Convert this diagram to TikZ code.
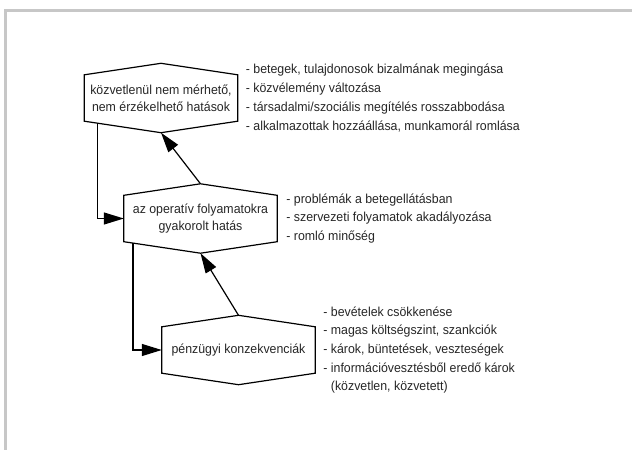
\documentclass[tikz,border=0pt]{standalone}
\usepackage{fontspec}
\setmainfont{Liberation Sans}[FakeStretch=0.95]
\usetikzlibrary{arrows.meta,positioning,calc}

\tikzset{
  hexbox/.style={minimum width=153pt, minimum height=46pt, inner sep=0pt, align=center, text=black!85},
  hexline/.style={line width=1.2pt},
  flow/.style={line width=1.2pt, -{Triangle[length=20pt,width=12pt]}},
  items/.style={align=left, inner sep=0pt, text=black!85, font=\fontsize{13}{18.7}\selectfont},
  frame/.style={line width=3pt, draw=black!22},
}
\newcommand{\hexframe}[1]{%
  \coordinate (#1-up) at ([yshift=11.5pt]#1.north);
  \coordinate (#1-dn) at ([yshift=-11.5pt]#1.south);
  \draw[hexline] (#1.north west) -- (#1-up) -- (#1.north east) -- (#1.south east)
    -- (#1-dn) -- (#1.south west) -- cycle;}

\begin{document}
\begin{tikzpicture}[x=1pt,y=-1pt,font=\fontsize{13}{17}\selectfont]
\useasboundingbox (0,0) rectangle (632,450);
%%Frame
\draw[frame] (632,10) -- (5,10) -- (5,450);

%%Boxes
\node[hexbox] (indirect) at (161,98) {közvetlenül nem mérhető,\\nem érzékelhető hatások};
\node[hexbox] (operative) at (200.5,218.5) {az operatív folyamatokra\\gyakorolt hatás};
\node[hexbox] (financial) at (238.5,350) {pénzügyi konzekvenciák};
\hexframe{indirect}
\hexframe{operative}
\hexframe{financial}

%%Lists
\node[items, right=8pt of indirect] (indirectlist) {- betegek, tulajdonosok bizalmának megingása\\- közvélemény változása\\- társadalmi/szociális megítélés rosszabbodása\\- alkalmazottak hozzáállása, munkamorál romlása};
\node[items, right=9pt of operative] (operativelist) {- problémák a betegellátásban\\- szervezeti folyamatok akadályozása\\- romló minőség};
\node[items, right=8pt of financial] (financiallist) {- bevételek csökkenése\\- magas költségszint, szankciók\\- károk, büntetések, veszteségek\\- információvesztésből eredő károk\\\phantom{- }(közvetlen, közvetett)};

%%Arrows
\draw[flow] (financial-up) -- (operative-dn);
\draw[flow] (operative-up) -- (indirect-dn);
\draw[flow] ($(indirect.south west)!0.17!(indirect-dn)$) |- (operative.west);
\draw[flow] ($(operative.south west)!0.12!(operative-dn)$) |- (financial.west);

\end{tikzpicture}
\end{document}
